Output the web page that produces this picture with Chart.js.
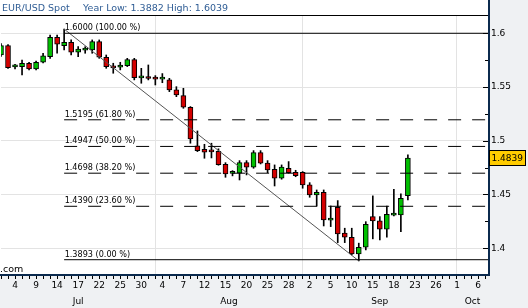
<!DOCTYPE html>
<html><head><meta charset="utf-8">
<script src="https://cdn.jsdelivr.net/npm/chart.js@4.4.1/dist/chart.umd.min.js"></script>
<style>html,body{margin:0;padding:0;background:#eff1f3}canvas{display:block}</style>
</head><body>
<canvas id="c" width="528" height="308"></canvas>
<script>
const title = 'EUR/USD Spot';
const subtitle = 'Year Low: 1.3882 High: 1.6039';
const sourceText = '.com';

const dates = [
'2008-07-02','2008-07-03','2008-07-04','2008-07-07','2008-07-08','2008-07-09','2008-07-10','2008-07-11',
'2008-07-14','2008-07-15','2008-07-16','2008-07-17','2008-07-18','2008-07-21','2008-07-22','2008-07-23','2008-07-24','2008-07-25',
'2008-07-28','2008-07-29','2008-07-30','2008-07-31','2008-08-01',
'2008-08-04','2008-08-05','2008-08-06','2008-08-07','2008-08-08',
'2008-08-11','2008-08-12','2008-08-13','2008-08-14','2008-08-15',
'2008-08-18','2008-08-19','2008-08-20','2008-08-21','2008-08-22',
'2008-08-25','2008-08-26','2008-08-27','2008-08-28','2008-08-29',
'2008-09-01','2008-09-02','2008-09-03','2008-09-04','2008-09-05',
'2008-09-08','2008-09-09','2008-09-10','2008-09-11','2008-09-12',
'2008-09-15','2008-09-16','2008-09-17','2008-09-18','2008-09-19',
'2008-09-22','2008-09-23','2008-09-24','2008-09-25','2008-09-26',
'2008-09-29','2008-09-30','2008-10-01','2008-10-02','2008-10-03',
'2008-10-06','2008-10-07'];

const opens  = [1.5798,1.5885,1.5688,1.5690,1.5721,1.5668,1.5730,1.5782,1.5963,1.5885,1.5916,1.5823,1.5843,1.5845,1.5922,1.5777,1.5682,1.5684,1.5699,1.5755,1.5585,1.5583,1.5577,1.5573,1.5566,1.5473,1.5420,1.5312,1.4952,1.4921,1.4901,1.4902,1.4781,1.4696,1.4698,1.4796,1.4754,1.4889,1.4791,1.4735,1.4651,1.4744,1.4707,1.4707,1.4589,1.4496,1.4521,1.4261,1.4381,1.4140,1.4102,1.3947,1.4009,1.4294,1.4254,1.4177,1.4308,1.4310,1.4490];
const highs  = [1.5905,1.5895,1.5712,1.5750,1.5730,1.5742,1.5814,1.5984,1.5984,1.6039,1.5938,1.5875,1.5875,1.5938,1.5938,1.5798,1.5721,1.5730,1.5767,1.5767,1.5674,1.5705,1.5606,1.5625,1.5581,1.5503,1.5488,1.5318,1.5091,1.4967,1.4977,1.4925,1.4796,1.4722,1.4815,1.4815,1.4908,1.4908,1.4815,1.4775,1.4775,1.4806,1.4725,1.4713,1.4610,1.4542,1.4542,1.4393,1.4443,1.4186,1.4186,1.4047,1.4247,1.4487,1.4294,1.4393,1.4549,1.4505,1.4868];
const lows   = [1.5785,1.5672,1.5668,1.5612,1.5660,1.5659,1.5725,1.5767,1.5814,1.5845,1.5798,1.5782,1.5814,1.5814,1.5767,1.5674,1.5628,1.5659,1.5690,1.5566,1.5535,1.5566,1.5519,1.5540,1.5457,1.5410,1.5302,1.4977,1.4899,1.4837,1.4840,1.4772,1.4660,1.4673,1.4635,1.4682,1.4744,1.4784,1.4703,1.4579,1.4642,1.4698,1.4665,1.4558,1.4474,1.4393,1.4207,1.4201,1.4052,1.4052,1.3938,1.3882,1.3984,1.4087,1.4077,1.4102,1.4300,1.4154,1.4449];
const closes = [1.5885,1.5680,1.5691,1.5721,1.5668,1.5730,1.5789,1.5963,1.5898,1.5916,1.5823,1.5854,1.5847,1.5922,1.5777,1.5690,1.5678,1.5705,1.5755,1.5587,1.5589,1.5579,1.5573,1.5577,1.5473,1.5427,1.5312,1.5017,1.4908,1.4893,1.4897,1.4778,1.4691,1.4700,1.4796,1.4754,1.4889,1.4791,1.4729,1.4651,1.4754,1.4703,1.4675,1.4589,1.4496,1.4521,1.4263,1.4265,1.4133,1.4102,1.3947,1.4009,1.4223,1.4254,1.4177,1.4316,1.4312,1.4465,1.4839];

const tickDates = ['2008-07-04','2008-07-09','2008-07-14','2008-07-17','2008-07-22','2008-07-25','2008-07-30',
'2008-08-04','2008-08-07','2008-08-12','2008-08-15','2008-08-20','2008-08-25','2008-08-28',
'2008-09-02','2008-09-05','2008-09-10','2008-09-15','2008-09-18','2008-09-23','2008-09-26',
'2008-10-01','2008-10-06'];
const monthNames = ['Jan','Feb','Mar','Apr','May','Jun','Jul','Aug','Sep','Oct','Nov','Dec'];

const fibLevels   = [1.6000, 1.5195, 1.4947, 1.4698, 1.4390, 1.3893];
const fibPercents = ['100.00','61.80','50.00','38.20','23.60','0.00'];

const X_MIN = 0, X_MAX = 69.42, Y_MIN = 1.376, Y_MAX = 1.617;
const UP = '#00c000', DOWN = '#d40000';
const GRID = '#e3e3e3';

const idx = closes.map((_, i) => i);
const candleColor = idx.map(i => closes[i] >= opens[i] ? UP : DOWN);
const highIdx = highs.indexOf(Math.max(...highs));
const lowIdx = lows.indexOf(Math.min(...lows));

const isMajor = v => Math.abs(v * 20 - Math.round(v * 20)) < 1e-6;
const monthOf = d => d.slice(5, 7);
const isMonthStart = i => i > 0 && i < dates.length && monthOf(dates[i]) !== monthOf(dates[i - 1]);
const tickLabelFor = v => {
  const d = dates[v];
  return d && tickDates.includes(d) ? String(parseInt(d.slice(8), 10)) : '';
};

const datasets = [];
fibLevels.forEach((lv, k) => {
  const solid = fibPercents[k] === '100.00' || fibPercents[k] === '0.00';
  datasets.push({type: 'line', data: [{x: highIdx, y: lv}, {x: X_MAX, y: lv}],
    borderColor: '#000', borderWidth: 1, borderDash: solid ? [] : [13, 11],
    pointRadius: 0, order: 0});
});
datasets.push({type: 'line', data: [{x: highIdx, y: highs[highIdx]}, {x: lowIdx, y: lows[lowIdx]}],
  borderColor: '#555', borderWidth: 1, pointRadius: 0, order: 0});
datasets.push({type: 'bar', data: idx.map(i => ({x: i, y: [opens[i], closes[i]]})),
  backgroundColor: candleColor, borderColor: '#000', borderWidth: 1, borderSkipped: false,
  barThickness: 5, minBarLength: 2, grouped: false, order: 1});
datasets.push({type: 'bar', data: idx.map(i => ({x: i, y: [lows[i], highs[i]]})),
  backgroundColor: '#000', borderWidth: 0, barThickness: 1, grouped: false, order: 2});

const decor = {
  id: 'decor',
  beforeDraw(chart) {
    const {ctx, chartArea: a} = chart;
    ctx.save();
    ctx.fillStyle = '#eff1f3';
    ctx.fillRect(0, 0, chart.width, chart.height);
    ctx.fillStyle = '#ffffff';
    ctx.fillRect(0, 0, a.right, a.bottom);
    ctx.restore();
  },
  afterDraw(chart) {
    const {ctx, chartArea: a, scales: {x, y}} = chart;
    ctx.save();
    // top rule
    ctx.fillStyle = '#000';
    ctx.fillRect(0, a.top, a.right, 1);
    // frame right/bottom
    ctx.fillStyle = '#0b2a4e';
    ctx.fillRect(a.right, 0, 2, a.bottom + 2);
    ctx.fillRect(0, a.bottom, a.right + 2, 2);
    // inward y ticks
    ctx.fillStyle = '#000';
    y.ticks.forEach(t => {
      const py = Math.round(y.getPixelForValue(t.value));
      const len = isMajor(t.value) ? 5 : 3;
      ctx.fillRect(a.right - len, py, len, 1);
    });
    // header
    ctx.font = '9.5px "DejaVu Sans"';
    ctx.fillStyle = '#2f5d95';
    ctx.textBaseline = 'alphabetic';
    ctx.textAlign = 'left';
    ctx.fillText(title, 2, 11);
    ctx.fillText(subtitle, 83, 11);
    // fib labels
    ctx.fillStyle = '#000';
    ctx.font = '9px "DejaVu Sans Condensed", "Liberation Sans"';
    fibLevels.forEach((lv, k) => {
      const px = x.getPixelForValue(highIdx) + 0.5;
      const py = y.getPixelForValue(lv) - 3;
      ctx.fillText(lv.toFixed(4) + ' (' + fibPercents[k] + ' %)', px, py);
    });
    // source text
    ctx.font = '9.5px "DejaVu Sans"';
    ctx.fillText(sourceText, 0, 272);
    // month labels
    ctx.font = '9px "DejaVu Sans"';
    ctx.textAlign = 'center';
    const starts = [];
    dates.forEach((d, i) => { if (i === 0 || isMonthStart(i)) starts.push(i); });
    starts.forEach((s, k) => {
      const p0 = Math.max(a.left, x.getPixelForValue(s));
      const p1 = k + 1 < starts.length ? x.getPixelForValue(starts[k + 1]) : a.right;
      const m = monthNames[parseInt(monthOf(dates[s]), 10) - 1];
      ctx.fillText(m, (p0 + p1) / 2, 303.5);
    });
    // last price box
    const last = closes[closes.length - 1];
    const yc = y.getPixelForValue(last);
    const by = Math.round(yc - 8);
    ctx.fillStyle = '#ffcc00';
    ctx.fillRect(489, by, 37, 16);
    ctx.strokeStyle = '#000';
    ctx.lineWidth = 1;
    ctx.strokeRect(489.5, by + 0.5, 36, 15);
    ctx.fillStyle = '#000';
    ctx.textAlign = 'left';
    ctx.textBaseline = 'middle';
    ctx.font = '9px "DejaVu Sans"';
    ctx.fillText(last.toFixed(4), 491.5, by + 8.5);
    ctx.restore();
  }
};

new Chart(document.getElementById('c'), {
  type: 'bar',
  data: {datasets},
  options: {
    responsive: false, animation: false, devicePixelRatio: 1,
    layout: {padding: {top: 15, left: 0, right: 0, bottom: 0}},
    plugins: {legend: {display: false}, tooltip: {enabled: false}, title: {display: false}},
    scales: {
      x: {
        type: 'linear', min: X_MIN, max: X_MAX, offset: false,
        afterBuildTicks: s => { s.ticks = dates.map((d, i) => ({value: i})); },
        afterFit: s => { s.height = 34; },
        grid: {offset: false, color: c => (c.tick && isMonthStart(c.tick.value)) ? GRID : 'rgba(0,0,0,0)',
               tickColor: '#000', tickLength: 5, lineWidth: 1, drawTicks: true},
        border: {display: false},
        ticks: {autoSkip: false, maxRotation: 0, minRotation: 0, padding: 1, color: '#000',
                font: {family: 'DejaVu Sans', size: 9}, callback: v => tickLabelFor(v)}
      },
      y: {
        type: 'linear', position: 'right', min: Y_MIN, max: Y_MAX, beginAtZero: false,
        afterFit: s => { s.width = 40; },
        grid: {color: c => (c.tick && isMajor(c.tick.value)) ? GRID : 'rgba(0,0,0,0)', drawTicks: false},
        border: {display: false},
        ticks: {stepSize: 0.025, includeBounds: false, autoSkip: false, padding: 3, color: '#000',
                font: {family: 'DejaVu Sans', size: 9},
                callback: v => isMajor(v) ? String(parseFloat(v.toFixed(3))) : ''}
      }
    }
  },
  plugins: [decor]
});
</script>
</body></html>
